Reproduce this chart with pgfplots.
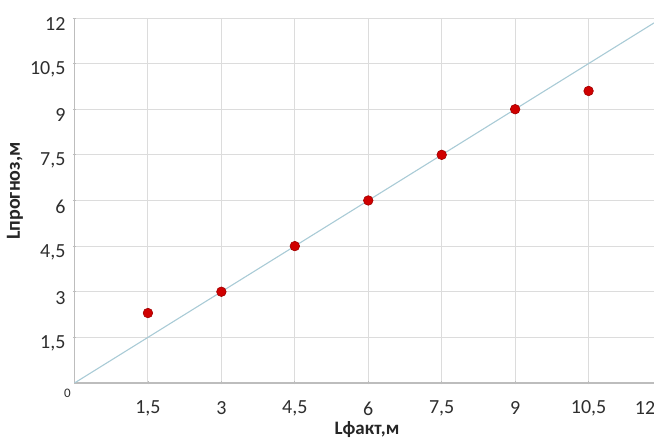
\documentclass[border=0pt]{standalone}
\usepackage{pgfplots}
\pgfplotsset{compat=1.18}
\usepackage{fontspec}
\setmainfont{Carlito}
\definecolor{gridc}{HTML}{DCDCDC}
\definecolor{axc}{HTML}{BDBDBD}
\definecolor{linec}{HTML}{A9CBD6}
\definecolor{ptfill}{HTML}{D00000}
\definecolor{ptdraw}{HTML}{A00000}
\definecolor{txt}{HTML}{2E2E2E}
\begin{document}
\begin{tikzpicture}
\begin{axis}[
  x=48.96pt, y=30.42pt,
  xmin=0, xmax=12, ymin=0, ymax=12,
  axis x line*=bottom, axis y line*=left,
  axis line style={axc, line width=1.2pt, -},
  grid=major, grid style={gridc, line width=0.9pt},
  xtick={1.5,3,4.5,6,7.5,9,10.5},
  ytick={1.5,3,4.5,6,7.5,9,10.5,12},
  extra x ticks={12},
  extra x tick style={xticklabel style={xshift=-17pt}},
  major tick length=3pt, tick align=center,
  tick style={axc, line width=0.8pt},
  /pgf/number format/assume math mode=true,
  /pgf/number format/use comma,
  xticklabel style={font=\fontsize{20}{24}\selectfont, text=txt, anchor=center, yshift=-24pt},
  yticklabel style={font=\fontsize{20}{24}\selectfont, text=txt, anchor=east, xshift=-4pt, yshift=-6pt},
  clip=true,
]
\addplot[color=linec, line width=1.1pt] coordinates {(0,0) (12,12)};
\addplot[only marks, mark=*, mark size=4.8pt, mark options={fill=ptfill, draw=ptdraw, line width=0.6pt}] coordinates {
(1.5,2.3) (3,3) (4.5,4.5) (6,6) (7.5,7.5) (9,9) (10.5,9.6)
};
\coordinate (o) at (axis cs:0,0);
\end{axis}
\node[font=\fontsize{13}{13}\selectfont, text=txt] at ([xshift=-7pt,yshift=-10pt]o) {0};
\coordinate (yl) at ([xshift=-59.5pt,yshift=192pt]o);
\node[rotate=90, font=\bfseries\fontsize{20}{20}\selectfont, text=black!85] at (yl) {Lпрогноз,м};
\node[font=\bfseries\fontsize{19}{19}\selectfont, text=black!85] at ([xshift=292.5pt,yshift=-47pt]o) {Lфакт,м};
\pgfresetboundingbox
\path[use as bounding box] ([xshift=-74.5pt,yshift=-58pt]o) rectangle ([xshift=579.5pt,yshift=383pt]o);
\end{tikzpicture}
\end{document}
